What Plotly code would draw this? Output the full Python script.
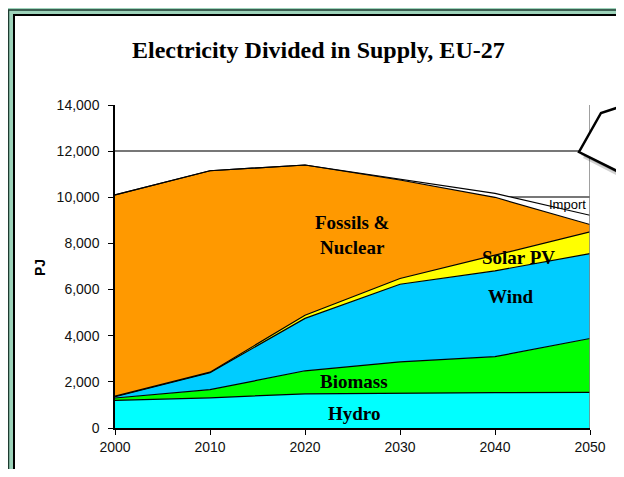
import plotly.graph_objects as go

# page is offset by the browser's 8px body margin; keep the page from overflowing
OFF = 8
W, H = 624 - OFF, 477 - 2 * OFF

years = [2000, 2010, 2020, 2030, 2040, 2050]
hydro = [1200, 1310, 1480, 1520, 1530, 1540]
biomass = [100, 350, 1000, 1350, 1560, 2340]
wind = [60, 740, 2270, 3360, 3720, 3680]
solar = [20, 20, 140, 250, 680, 940]
fossils = [8720, 8730, 6510, 4270, 2510, 320]
imports = [0, 0, 0, 30, 170, 400]

series = [
    ("Hydro", hydro, "#00FFFF"),
    ("Biomass", biomass, "#00FF00"),
    ("Wind", wind, "#00CCFF"),
    ("Solar PV", solar, "#FFFF00"),
    ("Fossils & Nuclear", fossils, "#FF9900"),
    ("Import", imports, "#FFFFFF"),
]

ytick_vals = [0, 2000, 4000, 6000, 8000, 10000, 12000, 14000]


def px(x):
    return min(max(x - OFF, 0), W) / W


def py(y):
    return 1 - min(max(y - OFF, 0), H) / H


fig = go.Figure()
for name, vals, col in series:
    fig.add_trace(go.Scatter(
        x=years, y=vals, name=name, mode="lines", stackgroup="one",
        line=dict(color="black", width=1.2), fillcolor=col,
        hoverinfo="x+y+name",
    ))

serif = "Liberation Serif, Times New Roman, serif"
sans = "Liberation Sans, Arial, sans-serif"


def path(pts, close=True):
    s = "M " + " L ".join(f"{px(a):.5f},{py(b):.5f}" for a, b in pts)
    return s + (" Z" if close else "")


shapes = [
    # white panel fill
    dict(type="rect", xref="paper", yref="paper", x0=px(13), y0=py(14), x1=1, y1=0,
         line=dict(width=0), fillcolor="#FFFFFF", layer="below"),
    # outer dark frame line (left + top)
    dict(type="path", xref="paper", yref="paper", path=path([(8.5, 477), (8.5, 10), (624, 10)], close=False),
         line=dict(color="#1d3b30", width=1.5), layer="below"),
    # inner black frame line (left + top)
    dict(type="path", xref="paper", yref="paper", path=path([(14, 477), (14, 15), (624, 15)], close=False),
         line=dict(color="#000000", width=2), layer="below"),
    # plot area right border
    dict(type="line", xref="x", yref="y", x0=2050, y0=0, x1=2050, y1=14000,
         line=dict(color="#808080", width=1.5), layer="above"),
]

callout = [(624, 106), (601, 113), (579, 152), (621, 173), (624, 174)]
shadow1 = [(a + 4, b + 6) for a, b in callout] + [(624, 174)]
shadow2 = [(a + 2, b + 3) for a, b in callout] + [(624, 174)]
shapes.append(dict(type="path", xref="paper", yref="paper", path=path(shadow1),
                   line=dict(width=0), fillcolor="rgba(0,0,0,0.18)", layer="above"))
shapes.append(dict(type="path", xref="paper", yref="paper", path=path(shadow2),
                   line=dict(width=0), fillcolor="rgba(0,0,0,0.2)", layer="above"))
shapes.append(dict(type="path", xref="paper", yref="paper", path=path(callout),
                   line=dict(width=0), fillcolor="#FFFFFF", layer="above"))
shapes.append(dict(type="path", xref="paper", yref="paper",
                   path=path([(622.5, 0), (622.5, 106), (601, 113), (579, 152), (621, 173), (622.5, 174), (622.5, 477)], close=False),
                   line=dict(color="black", width=2.5), layer="above"))

lab_font = dict(family=serif, size=19, color="#000000")
annotations = [
    dict(text="<b>Electricity Divided in Supply, EU-27</b>", xref="paper", yref="paper",
         x=px(318.5), y=py(50), showarrow=False, xanchor="center", yanchor="middle",
         font=dict(family=serif, size=24, color="#000000")),
    dict(text="<b>PJ</b>", xref="paper", yref="paper", x=px(40), y=py(268), textangle=-90,
         showarrow=False, xanchor="center", yanchor="middle",
         font=dict(family=sans, size=14, color="#000000")),
    dict(text="<b>Fossils &amp;<br>Nuclear</b>", x=2024.9, y=8350, showarrow=False,
         font=lab_font, align="center"),
    dict(text="<b>Solar PV</b>", x=2042.5, y=7400, showarrow=False, font=lab_font),
    dict(text="<b>Wind</b>", x=2041.7, y=5714, showarrow=False, font=lab_font),
    dict(text="<b>Biomass</b>", x=2025.2, y=2035, showarrow=False, font=lab_font),
    dict(text="<b>Hydro</b>", x=2025.2, y=650, showarrow=False, font=lab_font),
    dict(text="Import", x=2049.8, y=9700, showarrow=False, xanchor="right",
         font=dict(family=sans, size=13, color="#000000")),
]

fig.update_layout(
    width=W, height=H,
    autosize=False,
    margin=dict(l=0, r=0, t=0, b=0, pad=0),
    paper_bgcolor="#9DD3BA",
    plot_bgcolor="#FFFFFF",
    showlegend=False,
    shapes=shapes,
    annotations=annotations,
    xaxis=dict(domain=[px(115), px(590)], range=[2000, 2050], tickvals=years,
               automargin=False,
               ticks="outside", ticklen=5, tickcolor="black", showline=True,
               linecolor="black", linewidth=1.5, showgrid=False, zeroline=False,
               tickfont=dict(family=sans, size=14, color="#111111"), fixedrange=True),
    yaxis=dict(domain=[py(428), py(105)], range=[0, 14000], tickvals=ytick_vals,
               automargin=False,
               tickformat=",d", ticks="outside", ticklen=5, tickcolor="black",
               showline=True, linecolor="black", linewidth=1.5, showgrid=True,
               gridcolor="#777777", gridwidth=1.5, zeroline=False,
               ticklabelstandoff=6,
               tickfont=dict(family=sans, size=14, color="#111111"), fixedrange=True),
)

fig.write_html("out.html", config={"responsive": False, "displayModeBar": False})
